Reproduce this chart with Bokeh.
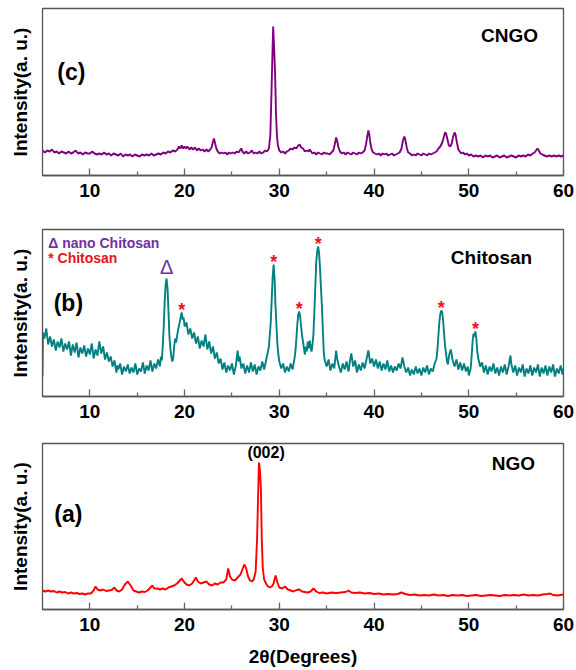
from bokeh.plotting import figure
from bokeh.layouts import column
from bokeh.models import Range1d, FixedTicker
from bokeh.core.properties import value
from bokeh.embed import file_html
from bokeh.resources import INLINE

FONT = "Liberation Sans"

# ---------------- data (2theta in degrees, intensity in arbitrary units) ----------------
x_ticks = [10, 20, 30, 40, 50, 60]
x_minor_ticks = [15, 25, 35, 45, 55]

cngo_xrd = [
    (5.0, 25), (5.25, 23), (5.5, 25), (5.75, 24), (6.0, 26), (6.25, 23), (6.5, 24), (6.75, 22),
    (7.0, 24), (7.25, 23), (7.5, 22), (7.75, 24), (8.0, 22), (8.25, 23), (8.5, 25), (8.75, 22),
    (9.0, 23), (9.25, 21), (9.5, 23), (9.75, 22), (10.0, 22), (10.25, 24), (10.5, 22), (10.75, 21),
    (11.0, 22), (11.25, 21), (11.5, 23), (11.75, 21), (12.0, 22), (12.25, 20), (12.5, 22), (12.75, 21),
    (13.0, 20), (13.25, 22), (13.5, 19), (13.75, 21), (14.0, 20), (14.25, 21), (14.5, 19), (14.75, 21),
    (15.0, 20), (15.25, 19), (15.5, 21), (15.75, 20), (16.0, 21), (16.25, 20), (16.5, 22), (16.75, 20),
    (17.0, 21), (17.25, 22), (17.5, 21), (17.75, 23), (18.0, 22), (18.25, 24), (18.5, 23), (18.75, 25),
    (19.0, 24), (19.25, 26), (19.4, 29), (19.55, 27), (19.7, 30), (19.85, 27), (20.0, 29), (20.15, 27),
    (20.3, 29), (20.5, 26), (20.7, 28), (20.9, 26), (21.1, 28), (21.3, 25), (21.5, 27), (21.7, 25),
    (21.9, 26), (22.1, 24), (22.3, 26), (22.5, 24), (22.7, 26), (22.85, 28), (23.0, 34), (23.1, 37),
    (23.2, 33), (23.35, 27), (23.5, 24), (23.7, 22), (23.9, 23), (24.1, 22), (24.3, 23), (24.5, 21),
    (24.7, 23), (24.9, 22), (25.1, 23), (25.3, 22), (25.5, 24), (25.7, 23), (25.9, 26), (26.0, 27),
    (26.1, 24), (26.3, 22), (26.5, 24), (26.7, 22), (26.9, 23), (27.1, 25), (27.3, 22), (27.5, 23),
    (27.7, 22), (27.9, 24), (28.1, 22), (28.3, 23), (28.5, 25), (28.7, 24), (28.9, 27), (29.05, 40),
    (29.15, 75), (29.25, 112), (29.35, 149), (29.45, 128), (29.55, 103), (29.65, 62), (29.75, 40), (29.85, 30),
    (30.0, 25), (30.2, 23), (30.4, 24), (30.6, 22), (30.8, 24), (31.0, 25), (31.2, 27), (31.4, 26),
    (31.6, 28), (31.8, 27), (32.0, 30), (32.15, 31), (32.3, 28), (32.5, 27), (32.7, 24), (32.9, 25),
    (33.1, 24), (33.2, 26), (33.35, 24), (33.5, 22), (33.7, 23), (33.9, 21), (34.1, 23), (34.3, 22),
    (34.5, 21), (34.7, 23), (34.9, 22), (35.1, 22), (35.3, 21), (35.5, 23), (35.7, 25), (35.85, 31),
    (36.0, 38), (36.1, 35), (36.25, 28), (36.4, 24), (36.6, 22), (36.8, 23), (37.0, 21), (37.2, 23),
    (37.4, 22), (37.6, 21), (37.8, 23), (38.0, 22), (38.2, 21), (38.4, 23), (38.6, 22), (38.8, 23),
    (39.0, 25), (39.15, 31), (39.3, 40), (39.4, 45), (39.5, 41), (39.6, 33), (39.75, 26), (39.9, 23),
    (40.1, 22), (40.3, 21), (40.5, 22), (40.7, 20), (40.9, 22), (41.1, 21), (41.3, 22), (41.5, 20),
    (41.7, 21), (41.9, 22), (42.1, 20), (42.3, 21), (42.5, 22), (42.7, 23), (42.9, 27), (43.05, 35),
    (43.2, 39), (43.3, 36), (43.45, 28), (43.6, 23), (43.8, 22), (44.0, 20), (44.2, 21), (44.4, 20),
    (44.6, 22), (44.8, 21), (45.0, 20), (45.2, 22), (45.4, 21), (45.6, 20), (45.8, 22), (46.0, 21),
    (46.2, 22), (46.4, 23), (46.6, 24), (46.8, 27), (47.0, 29), (47.2, 33), (47.35, 38), (47.5, 43),
    (47.6, 42), (47.75, 36), (47.9, 30), (48.05, 29), (48.2, 32), (48.35, 39), (48.5, 43), (48.6, 41),
    (48.75, 33), (48.9, 26), (49.05, 24), (49.2, 22), (49.4, 23), (49.6, 21), (49.8, 22), (50.0, 20),
    (50.25, 21), (50.5, 19), (50.75, 20), (51.0, 19), (51.25, 20), (51.5, 18), (51.75, 20), (52.0, 19),
    (52.25, 20), (52.5, 18), (52.75, 19), (53.0, 20), (53.25, 18), (53.5, 19), (53.75, 20), (54.0, 18),
    (54.25, 19), (54.5, 20), (54.75, 19), (55.0, 18), (55.25, 20), (55.5, 19), (55.75, 20), (56.0, 19),
    (56.25, 21), (56.5, 20), (56.75, 22), (56.95, 23), (57.1, 25), (57.25, 27), (57.4, 25), (57.55, 22),
    (57.75, 21), (58.0, 20), (58.25, 19), (58.5, 20), (58.75, 19), (59.0, 20), (59.25, 19), (59.5, 20),
    (59.75, 19), (60.0, 20),
]

chitosan_xrd = [
    (5.0, 20), (5.05, 64), (5.2, 58), (5.4, 68), (5.6, 52), (5.8, 60), (6.0, 50), (6.2, 57),
    (6.4, 46), (6.6, 55), (6.8, 49), (7.0, 58), (7.2, 45), (7.4, 53), (7.6, 47), (7.8, 55),
    (8.0, 41), (8.2, 52), (8.4, 44), (8.6, 54), (8.8, 39), (9.0, 49), (9.2, 43), (9.4, 51),
    (9.6, 40), (9.8, 48), (10.0, 42), (10.2, 53), (10.4, 38), (10.6, 47), (10.8, 41), (11.0, 55),
    (11.2, 43), (11.4, 50), (11.6, 37), (11.8, 44), (12.0, 35), (12.2, 40), (12.4, 30), (12.6, 36),
    (12.8, 24), (12.9, 31), (13.0, 27), (13.2, 33), (13.4, 22), (13.6, 30), (13.8, 25), (14.0, 32),
    (14.2, 23), (14.4, 29), (14.6, 24), (14.8, 33), (15.0, 22), (15.2, 28), (15.4, 25), (15.6, 34),
    (15.8, 23), (16.0, 31), (16.2, 26), (16.4, 36), (16.6, 25), (16.8, 33), (17.0, 28), (17.2, 37),
    (17.4, 30), (17.5, 40), (17.6, 36), (17.7, 52), (17.8, 70), (17.9, 95), (18.0, 112), (18.1, 118),
    (18.2, 108), (18.3, 85), (18.4, 60), (18.5, 48), (18.6, 40), (18.7, 35), (18.8, 38), (18.9, 50),
    (19.0, 58), (19.1, 54), (19.3, 66), (19.5, 75), (19.6, 80), (19.7, 84), (19.8, 77), (19.9, 79),
    (20.0, 70), (20.2, 74), (20.4, 62), (20.6, 68), (20.8, 58), (21.0, 64), (21.2, 53), (21.4, 60),
    (21.6, 48), (21.8, 56), (22.0, 50), (22.2, 62), (22.4, 47), (22.6, 55), (22.8, 43), (23.0, 50),
    (23.2, 38), (23.4, 44), (23.6, 33), (23.8, 38), (24.0, 27), (24.2, 34), (24.4, 24), (24.6, 31),
    (24.8, 26), (25.0, 33), (25.2, 22), (25.4, 30), (25.6, 46), (25.7, 35), (25.8, 40), (26.0, 28),
    (26.2, 33), (26.4, 23), (26.6, 31), (26.8, 24), (27.0, 34), (27.2, 25), (27.4, 32), (27.6, 22),
    (27.8, 30), (28.0, 26), (28.2, 35), (28.4, 27), (28.6, 36), (28.8, 45), (28.9, 50), (29.0, 62),
    (29.1, 75), (29.2, 98), (29.3, 120), (29.4, 132), (29.5, 118), (29.6, 90), (29.7, 71), (29.8, 52),
    (29.9, 42), (30.0, 35), (30.2, 28), (30.4, 33), (30.6, 24), (30.8, 30), (31.0, 25), (31.2, 33),
    (31.4, 27), (31.6, 38), (31.7, 45), (31.8, 58), (31.9, 72), (32.0, 82), (32.1, 85), (32.2, 80),
    (32.3, 70), (32.4, 61), (32.5, 55), (32.6, 48), (32.7, 42), (32.8, 50), (32.9, 45), (33.0, 55),
    (33.1, 48), (33.2, 56), (33.3, 50), (33.4, 45), (33.5, 52), (33.6, 62), (33.7, 85), (33.8, 110),
    (33.9, 135), (34.0, 145), (34.1, 150), (34.2, 143), (34.3, 128), (34.4, 108), (34.5, 90), (34.6, 65),
    (34.7, 43), (34.8, 36), (35.0, 30), (35.2, 37), (35.4, 26), (35.6, 33), (35.8, 28), (36.0, 46),
    (36.1, 38), (36.3, 30), (36.5, 24), (36.7, 33), (36.9, 27), (37.1, 35), (37.3, 25), (37.5, 38),
    (37.6, 43), (37.8, 30), (38.0, 36), (38.2, 24), (38.4, 32), (38.6, 26), (38.8, 34), (39.0, 28),
    (39.2, 37), (39.4, 46), (39.6, 33), (39.8, 38), (40.0, 30), (40.2, 37), (40.4, 28), (40.6, 35),
    (40.8, 26), (41.0, 33), (41.2, 27), (41.4, 36), (41.6, 25), (41.8, 31), (42.0, 24), (42.2, 30),
    (42.4, 26), (42.6, 33), (42.8, 28), (43.0, 39), (43.2, 30), (43.4, 24), (43.6, 29), (43.8, 21),
    (44.0, 27), (44.2, 22), (44.4, 30), (44.6, 23), (44.8, 28), (45.0, 21), (45.2, 29), (45.4, 24),
    (45.6, 31), (45.8, 22), (46.0, 28), (46.2, 25), (46.4, 33), (46.6, 38), (46.7, 48), (46.8, 62),
    (46.9, 75), (47.0, 83), (47.1, 86), (47.2, 84), (47.3, 75), (47.4, 62), (47.5, 50), (47.6, 43),
    (47.7, 35), (47.8, 32), (47.9, 40), (48.0, 44), (48.1, 47), (48.2, 42), (48.3, 36), (48.5, 30),
    (48.7, 37), (48.9, 27), (49.1, 34), (49.3, 26), (49.5, 33), (49.7, 25), (49.9, 30), (50.0, 21),
    (50.2, 28), (50.3, 40), (50.4, 55), (50.5, 63), (50.6, 60), (50.7, 65), (50.8, 58), (50.9, 45),
    (51.0, 38), (51.2, 30), (51.4, 34), (51.6, 24), (51.8, 31), (52.0, 22), (52.2, 30), (52.4, 25),
    (52.6, 33), (52.8, 23), (53.0, 29), (53.2, 21), (53.4, 30), (53.6, 24), (53.8, 32), (54.0, 22),
    (54.2, 30), (54.4, 41), (54.5, 32), (54.7, 24), (54.9, 31), (55.1, 21), (55.3, 29), (55.5, 24),
    (55.7, 32), (55.9, 20), (56.1, 28), (56.3, 23), (56.5, 31), (56.7, 21), (56.9, 29), (57.1, 24),
    (57.3, 32), (57.5, 20), (57.7, 29), (57.9, 23), (58.1, 31), (58.3, 21), (58.5, 30), (58.7, 24),
    (58.9, 32), (59.1, 20), (59.3, 28), (59.5, 23), (59.7, 31), (59.9, 22), (60.0, 28),
]

ngo_xrd = [
    (5.0, 19), (5.3, 18), (5.6, 19), (5.9, 18), (6.2, 18.5), (6.5, 17), (6.8, 18), (7.1, 17),
    (7.4, 17.5), (7.7, 16), (8.0, 17), (8.3, 16), (8.6, 16.5), (8.9, 15.5), (9.2, 16), (9.5, 15),
    (9.8, 16), (10.1, 16), (10.4, 19), (10.6, 23), (10.8, 20), (11.1, 19), (11.4, 20), (11.7, 18.5),
    (12.0, 19), (12.3, 19.5), (12.6, 22), (12.8, 19), (13.1, 18), (13.4, 20), (13.7, 25), (14.0, 28),
    (14.3, 24), (14.6, 19), (14.9, 18), (15.2, 17), (15.5, 18), (15.8, 17.5), (16.1, 19), (16.4, 22),
    (16.6, 24), (16.8, 21), (17.1, 21), (17.4, 20), (17.7, 21), (18.0, 20), (18.3, 22), (18.6, 23),
    (18.9, 24), (19.2, 26), (19.5, 29), (19.7, 31), (19.9, 28), (20.2, 25), (20.5, 24), (20.8, 26),
    (21.0, 29), (21.2, 32), (21.4, 28), (21.7, 26), (22.0, 27), (22.3, 28), (22.6, 25), (22.9, 24),
    (23.2, 26), (23.5, 25), (23.8, 27), (24.1, 27), (24.4, 30), (24.6, 41), (24.8, 33), (25.0, 30),
    (25.3, 29), (25.6, 32), (25.9, 35), (26.1, 40), (26.3, 45), (26.5, 41), (26.7, 33), (26.9, 29),
    (27.1, 28), (27.3, 30), (27.5, 38), (27.65, 70), (27.75, 110), (27.85, 147), (27.95, 140), (28.05, 122),
    (28.15, 70), (28.25, 42), (28.4, 30), (28.6, 26), (28.8, 23), (29.0, 22), (29.2, 23), (29.4, 26),
    (29.6, 34), (29.8, 27), (30.0, 22), (30.3, 21), (30.6, 23), (30.9, 20), (31.2, 19), (31.5, 18),
    (31.8, 19.5), (32.1, 20), (32.4, 18), (32.7, 17.5), (33.0, 17), (33.3, 18), (33.6, 21), (33.9, 18),
    (34.2, 16.5), (34.6, 17), (35.0, 16), (35.5, 17), (36.0, 16.5), (36.5, 17), (37.0, 17.5), (37.3, 19),
    (37.6, 17), (38.0, 16.5), (38.5, 17), (39.0, 16), (39.5, 16.5), (40.0, 15.5), (40.5, 16), (41.0, 15),
    (41.5, 15.5), (42.0, 15), (42.5, 15.5), (42.9, 17), (43.3, 15.5), (43.8, 14.5), (44.3, 15), (44.8, 14),
    (45.3, 14.5), (45.8, 14), (46.3, 15), (46.8, 14), (47.3, 14.5), (47.8, 13.5), (48.3, 14.5), (48.8, 14),
    (49.3, 14.5), (49.8, 13.5), (50.3, 14), (50.8, 14.5), (51.3, 13.5), (51.8, 14), (52.3, 14.5), (52.8, 14),
    (53.3, 13.5), (53.8, 14.5), (54.3, 14), (54.8, 14.5), (55.3, 14), (55.8, 15), (56.3, 14), (56.8, 14.5),
    (57.3, 14), (57.8, 15), (58.3, 15.5), (58.6, 16), (58.9, 14.5), (59.4, 14), (60.0, 15),
]

chitosan_star_peaks = [19.7, 29.4, 32.1, 34.1, 47.1, 50.7]
nano_chitosan_peak = 18.1
ngo_002_peak = 27.85

cngo_2theta = [p[0] for p in cngo_xrd]
cngo_int = [p[1] for p in cngo_xrd]
chit_2theta = [p[0] for p in chitosan_xrd]
chit_int = [p[1] for p in chitosan_xrd]
ngo_2theta = [p[0] for p in ngo_xrd]
ngo_int = [p[1] for p in ngo_xrd]


def peak_height(xs, ys, x0, win=0.15):
    return max(y for x, y in zip(xs, ys) if abs(x - x0) <= win)


# ---------------- figures ----------------
W = 575


def make_panel(height, b_top, b_bottom, b_left, b_right, ymax, xlabel=None):
    p = figure(width=W, height=height, x_range=Range1d(5, 60), y_range=Range1d(0, ymax),
               output_backend="svg", toolbar_location=None,
               min_border_top=b_top, min_border_bottom=b_bottom,
               min_border_left=b_left, min_border_right=b_right)
    p.background_fill_color = "white"
    p.border_fill_color = "white"
    p.outline_line_color = "#555555"
    p.outline_line_width = 1.3
    p.xgrid.visible = False
    p.ygrid.visible = False

    xa = p.xaxis[0]
    xa.ticker = FixedTicker(ticks=x_ticks, minor_ticks=x_minor_ticks)
    xa.axis_line_color = "#555555"
    xa.axis_line_width = 1.3
    xa.major_tick_in = 7
    xa.major_tick_out = 0
    xa.minor_tick_in = 4
    xa.minor_tick_out = 0
    xa.major_tick_line_color = "#666666"
    xa.minor_tick_line_color = "#666666"
    xa.major_tick_line_width = 1.3
    xa.minor_tick_line_width = 1.3
    xa.major_label_text_font = FONT
    xa.major_label_text_font_style = "bold"
    xa.major_label_text_font_size = "19px"
    xa.major_label_text_color = "black"
    xa.major_label_standoff = 8
    if xlabel:
        xa.axis_label = xlabel
        xa.axis_label_text_font = FONT
        xa.axis_label_text_font_style = "bold"
        xa.axis_label_text_font_size = "19px"
        xa.axis_label_text_color = "black"
        xa.axis_label_standoff = 12

    ya = p.yaxis[0]
    ya.ticker = FixedTicker(ticks=[])
    ya.axis_line_color = "#555555"
    ya.major_tick_line_color = None
    ya.minor_tick_line_color = None
    ya.major_label_text_font_size = "0px"
    ya.major_label_standoff = 0
    ya.axis_label = "Intensity(a. u.)"
    ya.axis_label_text_font = FONT
    ya.axis_label_text_font_style = "bold"
    ya.axis_label_text_font_size = "19px"
    ya.axis_label_text_color = "black"
    ya.axis_label_standoff = 12
    return p


def add_text(p, x, y, txt, size, color="black", bold=True, align="center"):
    p.text(x=[x], y=[y], text=[txt], text_font=value(FONT),
           text_font_style="bold" if bold else "normal", text_font_size=size,
           text_color=color, text_align=align, text_baseline="middle")


# (c) CNGO
pc = make_panel(212, 8, 37, 42, 10, 167)
pc.line(cngo_2theta, cngo_int, line_color="#800080", line_width=1.9)
add_text(pc, 8.05, 104, "(c)", "23px")
add_text(pc, 54.3, 140, "CNGO", "19px")

# (b) Chitosan
pb = make_panel(216, 17, 32, 41, 10, 167)
pb.line(chit_2theta, chit_int, line_color="#008080", line_width=1.9)
add_text(pb, 7.73, 94, "(b)", "23px")
add_text(pb, 52.4, 139, "Chitosan", "19px")
add_text(pb, 5.6, 154, "\u0394 nano Chitosan", "14px", color="#7030A0", align="left")
add_text(pb, 5.6, 139, "* Chitosan", "14px", color="#E8141C", align="left")
star_y = [peak_height(chit_2theta, chit_int, x0) + 7 for x0 in chitosan_star_peaks]
pb.text(x=chitosan_star_peaks, y=star_y, text=["*"] * len(chitosan_star_peaks),
        text_font=value(FONT), text_font_style="bold", text_font_size="18px",
        text_color="#E8141C", text_align="center", text_baseline="middle", y_offset=4)
add_text(pb, nano_chitosan_peak, peak_height(chit_2theta, chit_int, nano_chitosan_peak) + 12,
         "\u0394", "20px", color="#7030A0", bold=False)

# (a) NGO
pa = make_panel(242, 15, 61, 40, 12, 166, xlabel="2\u03b8(Degrees)")
pa.line(ngo_2theta, ngo_int, line_color="#FF0000", line_width=1.9)
add_text(pa, 7.73, 96, "(a)", "23px")
add_text(pa, 54.7, 146, "NGO", "19px")
add_text(pa, ngo_002_peak + 0.75, peak_height(ngo_2theta, ngo_int, ngo_002_peak) + 10, "(002)", "16px")

layout = column(pc, pb, pa)
open("out.html", "w").write(file_html(layout, INLINE))
